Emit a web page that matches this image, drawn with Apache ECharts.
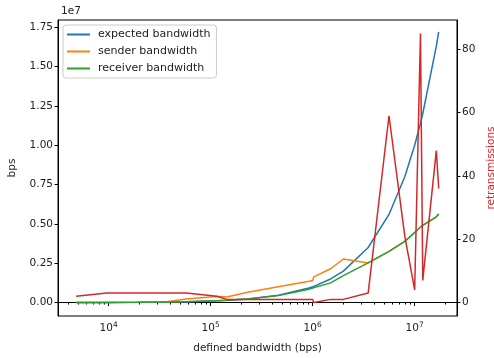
<!DOCTYPE html>
<html>
<head>
<meta charset="utf-8">
<script src="https://cdn.jsdelivr.net/npm/echarts@6/dist/echarts.min.js"></script>
<style>
  html, body { margin: 0; padding: 0; background: #fff; }
  #chart { width: 494px; height: 358px; }
</style>
</head>
<body>
<div id="chart"></div>
<script>
// defined bandwidth (bps)
const bandwidth = [4800, 9600, 19200, 38400, 57600, 115200, 144000, 230400, 460800, 921600,
  1000000, 1024000, 1500000, 2000000, 3500000, 5600000, 8000000, 10000000, 11400000, 12000000,
  16300000, 17200000];
const expectedBps = [4800, 9600, 19200, 38400, 57600, 115200, 144000, 230400, 460800, 921600,
  1000000, 1024000, 1500000, 2000000, 3500000, 5600000, 8000000, 10000000, 11400000, 12000000,
  16300000, 17200000];
const senderBps = [3000, 7000, 12000, 60000, 230000, 380000, 350000, 650000, 1000000, 1350000,
  1400000, 1630000, 2150000, 2770000, 2520000, 3250000, 3890000, 4450000, 4800000, 4900000,
  5450000, 5630000];
const receiverBps = [4500, 9200, 18500, 37000, 55000, 110000, 140000, 220000, 440000, 850000,
  930000, 950000, 1250000, 1710000, 2520000, 3250000, 3890000, 4450000, 4800000, 4900000,
  5450000, 5630000];
const retransmissions = [2, 3, 3, 3, 3, 2, 1, 1, 1, 1, 1, 0, 1, 1, 3, 59, 21, 4, 85, 7, 48, 36];

const xMajor = [1e4, 1e5, 1e6, 1e7];
const xMinor = [];
[1e3, 1e4, 1e5, 1e6, 1e7].forEach(d => {
  for (let k = 2; k <= 9; k++) if (k * d > 3200 && k * d < 2.6e7) xMinor.push(k * d);
});
const bpsTicks = [0, 2.5e6, 5e6, 7.5e6, 1e7, 1.25e7, 1.5e7, 1.75e7];
const retransTicks = [0, 20, 40, 60, 80];

const FONT = 'DejaVu Sans';
const INK = '#222';

const pairs = ys => bandwidth.map((x, i) => [x, ys[i]]);

const chart = echarts.init(document.getElementById('chart'), null, { renderer: 'canvas' });

chart.setOption({
  animation: false,
  backgroundColor: '#fff',
  textStyle: { fontFamily: FONT },
  title: {
    text: '1e7', left: 56, top: 1,
    textStyle: { fontFamily: FONT, fontSize: 10.5, fontWeight: 'normal', color: INK },
  },
  grid: {
    left: 58, right: 37, top: 20, bottom: 42, outerBoundsMode: 'none',
    show: true, borderColor: '#000', borderWidth: 1,
  },
  legend: {
    left: 63, top: 25, orient: 'vertical',
    data: ['expected bandwidth', 'sender bandwidth', 'receiver bandwidth'],
    icon: 'rect', itemWidth: 23, itemHeight: 2, itemGap: 6,
    padding: [4, 6, 4, 4],
    borderColor: '#ccc', borderWidth: 1, borderRadius: 3,
    textStyle: { fontFamily: FONT, fontSize: 11, color: INK, padding: [0, 0, 0, 3] },
  },
  xAxis: [{
    type: 'log', logBase: 10, min: 3186, max: 2.6e7,
    name: 'defined bandwidth (bps)', nameLocation: 'middle', nameGap: 27,
    nameTextStyle: { fontFamily: FONT, fontSize: 10.5, color: INK },
    axisLine: { lineStyle: { color: '#000' } },
    axisTick: { length: 3.5, customValues: xMajor, lineStyle: { color: '#000' } },
    axisLabel: {
      customValues: xMajor, margin: 5,
      formatter: v => '{b|10}{s|' + Math.round(Math.log10(v)) + '}',
      rich: {
        b: { fontFamily: FONT, fontSize: 10.5, color: INK },
        s: { fontFamily: FONT, fontSize: 7.5, color: INK, verticalAlign: 'top', padding: [0, 0, 7, 0] },
      },
    },
    splitLine: { show: false },
  }, {
    type: 'log', logBase: 10, min: 3186, max: 2.6e7, position: 'bottom',
    axisLine: { show: false },
    axisTick: { length: 2, customValues: xMinor, lineStyle: { color: '#000' } },
    axisLabel: { show: false },
    splitLine: { show: false },
  }],
  yAxis: [{
    type: 'value', min: -855000, max: 17960000,
    name: 'bps', nameLocation: 'middle', nameGap: 40, nameRotate: 90,
    nameTextStyle: { fontFamily: FONT, fontSize: 10.5, color: INK },
    axisLine: { show: true, lineStyle: { color: '#000' } },
    axisTick: { show: true, length: 3.5, customValues: bpsTicks, lineStyle: { color: '#000' } },
    axisLabel: {
      customValues: bpsTicks, margin: 5,
      fontFamily: FONT, fontSize: 10.5, color: INK,
      formatter: v => (v / 1e7).toFixed(2),
    },
    splitLine: { show: false },
  }, {
    type: 'value', min: -4.25, max: 89.25, position: 'right',
    name: 'retransmissions', nameLocation: 'middle', nameGap: 28, nameRotate: 90,
    nameTextStyle: { fontFamily: FONT, fontSize: 10.5, color: '#d62728' },
    axisLine: { show: true, lineStyle: { color: '#000' } },
    axisTick: { show: true, length: 3.5, customValues: retransTicks, lineStyle: { color: '#000' } },
    axisLabel: { customValues: retransTicks, margin: 5, fontFamily: FONT, fontSize: 10.5, color: INK },
    splitLine: { show: false },
  }],
  series: [
    { name: 'expected bandwidth', type: 'line', data: pairs(expectedBps), color: '#1f77b4' },
    { name: 'sender bandwidth', type: 'line', data: pairs(senderBps), color: '#ff7f0e' },
    { name: 'receiver bandwidth', type: 'line', data: pairs(receiverBps), color: '#2ca02c' },
    { name: 'retransmissions', type: 'line', yAxisIndex: 1, data: pairs(retransmissions), color: '#d62728' },
  ].map(s => Object.assign(s, {
    showSymbol: false, symbol: 'none', lineStyle: { width: 1.5 }, z: 2,
  })),
});
</script>
</body>
</html>
